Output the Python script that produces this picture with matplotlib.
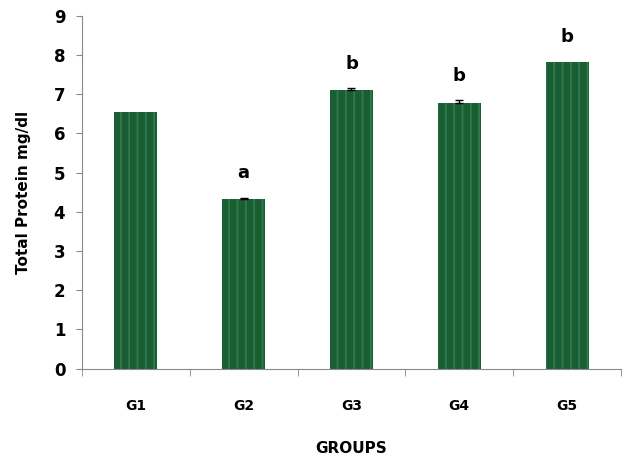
import matplotlib
matplotlib.use('Agg')
import matplotlib.pyplot as plt
import numpy as np

groups = ['G1', 'G2', 'G3', 'G4', 'G5']
protein = [6.54, 4.32, 7.10, 6.78, 7.83]
err = [0.0, 0.04, 0.06, 0.07, 0.0]
letters = ['', 'a', 'b', 'b', 'b']

plt.rcParams['hatch.linewidth'] = 1.2

fig = plt.figure(figsize=(6.27, 4.63), dpi=100)
ax = fig.add_axes([0.1308, 0.2041, 0.8596, 0.7619])

xpos = np.arange(len(groups))
ax.bar(xpos, protein, width=0.4, color='#1c5e34', edgecolor='#2f7d4c',
       linewidth=0, hatch='||', zorder=2)

# error bars only where there is a spread
has_err = [i for i, e in enumerate(err) if e > 0]
ax.errorbar(xpos[has_err], [protein[i] for i in has_err],
            yerr=[np.zeros(len(has_err)), [err[i] for i in has_err]], fmt='none',
            ecolor='black', elinewidth=1, capsize=3, capthick=1, zorder=3)

for i, lab in enumerate(letters):
    if lab:
        ax.text(xpos[i], protein[i] + err[i] + 0.62, lab, ha='center', va='center',
                fontsize=13, fontweight='heavy')

ax.set_xlim(-0.5, len(groups) - 0.5)
ax.set_ylim(0, 9)
ax.set_yticks(range(0, 10))
ax.set_yticklabels([str(v) for v in range(0, 10)], fontsize=12, fontweight='heavy')
ax.set_xticks(xpos)
ax.set_xticklabels(groups, fontsize=10, fontweight='bold')
ax.set_xticks(np.arange(-0.5, len(groups)), minor=True)
ax.tick_params(axis='x', which='major', length=0, pad=22)
ax.tick_params(axis='x', which='minor', length=5, color='#888888')
ax.tick_params(axis='y', length=4, color='#888888', pad=8)

for s in ['top', 'right']:
    ax.spines[s].set_visible(False)
for s in ['left', 'bottom']:
    ax.spines[s].set_color('#888888')

ax.set_xlabel('GROUPS', fontsize=11, fontweight='bold', labelpad=20)
ax.set_ylabel('Total Protein mg/dl', fontsize=11, fontweight='bold', labelpad=16)

fig.savefig('out.png', dpi=100)
